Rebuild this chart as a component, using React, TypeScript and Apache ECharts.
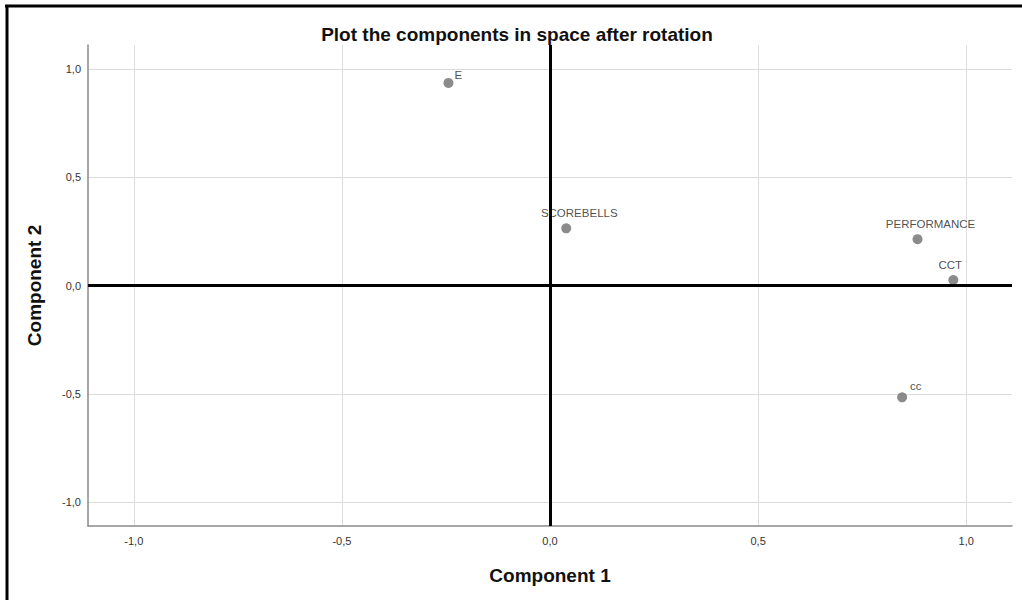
import React, { useEffect, useRef } from "react";
import * as echarts from "echarts";

const names = ["E", "SCOREBELLS", "PERFORMANCE", "CCT", "cc"];
const comp1 = [-0.244, 0.039, 0.883, 0.969, 0.846];
const comp2 = [0.935, 0.264, 0.214, 0.025, -0.516];
const tickValues = [-1.0, -0.5, 0.0, 0.5, 1.0];

const labelStyles: any[] = [
  { position: "right", offset: [-3, -8] },
  { position: "top", offset: [13, 0] },
  { position: "top", offset: [13, 0] },
  { position: "top", offset: [-3, 0] },
  { position: "right", offset: [-1, -11] },
];

const fmt = (v: number) => v.toFixed(1).replace(".", ",");
const FONT = "Liberation Sans, Arial, sans-serif";

export default function App() {
  const ref = useRef<HTMLDivElement>(null);
  useEffect(() => {
    if (!ref.current) return;
    const chart = echarts.init(ref.current, null, { renderer: "svg" });
    const axisCommon = {
      type: "value" as const,
      min: -1.11,
      max: 1.11,
      nameLocation: "middle" as const,
      nameTextStyle: {
        fontFamily: FONT,
        fontWeight: "bold" as const,
        fontSize: 19,
        color: "#111",
      },
      axisLine: { show: true, onZero: false, lineStyle: { color: "#8a8a8a", width: 1.5 } },
      axisTick: { show: false, customValues: tickValues },
      axisLabel: {
        customValues: tickValues,
        formatter: (v: number) => fmt(v),
        fontFamily: FONT,
        fontSize: 11,
        color: "#333",
      },
      splitLine: { show: true, lineStyle: { color: "#dcdcdc", width: 1 } },
    };
    chart.setOption({
      animation: false,
      backgroundColor: "#fff",
      title: {
        text: "Plot the components in space after rotation",
        left: 512,
        textAlign: "center",
        top: 20,
        textStyle: {
          fontFamily: FONT,
          fontWeight: "bold",
          fontSize: 19,
          color: "#111",
        },
      },
      grid: { left: 88, right: 10, top: 45, bottom: 74 },
      xAxis: {
        ...axisCommon,
        name: "Component 1",
        nameGap: 40,
        axisLabel: { ...axisCommon.axisLabel, margin: 9 },
      },
      yAxis: {
        ...axisCommon,
        name: "Component 2",
        nameGap: 44,
        axisLabel: { ...axisCommon.axisLabel, margin: 7 },
      },
      graphic: [
        { type: "line", shape: { x1: 5, y1: 6, x2: 1022, y2: 6 }, style: { stroke: "#000", lineWidth: 3 } },
        { type: "line", shape: { x1: 7, y1: 5, x2: 7, y2: 600 }, style: { stroke: "#000", lineWidth: 3 } },
      ],
      series: [
        {
          type: "scatter",
          symbolSize: 10,
          itemStyle: { color: "#6e6e6e" },
          data: names.map((n, i) => ({
            name: n,
            value: [comp1[i], comp2[i]],
            label: {
              show: true,
              formatter: n,
              fontFamily: FONT,
              fontSize: 11.5,
              color: "#222",
              distance: 4,
              ...labelStyles[i],
            },
          })),
          markLine: {
            silent: true,
            symbol: "none",
            label: { show: false },
            lineStyle: { color: "#000", width: 3, type: "solid" },
            data: [{ xAxis: 0 }, { yAxis: 0 }],
          },
          z: 3,
        },
      ],
    });
    return () => chart.dispose();
  }, []);
  return (
    <div
      ref={ref}
      style={{ position: "absolute", left: 0, top: 0, width: 1022, height: 600 }}
    />
  );
}
